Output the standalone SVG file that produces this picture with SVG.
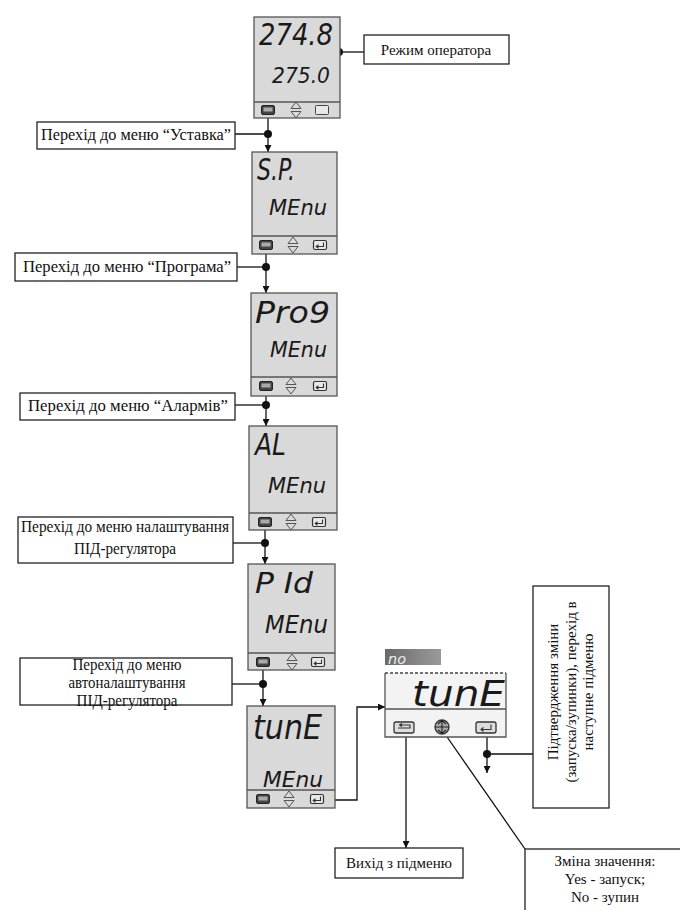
<svg xmlns="http://www.w3.org/2000/svg" width="680" height="910" viewBox="0 0 680 910">
<style>
.bg{fill:#fff}
.dev{fill:#d9d9d9;stroke:#555;stroke-width:1.3}
.sep{stroke:#555;stroke-width:1.3;fill:none}
.seg{font-family:"Liberation Sans Narrow","DejaVu Sans Condensed",sans-serif;font-style:italic;fill:#1a1a1a}
.lbl{fill:#fff;stroke:#222;stroke-width:1.3}
.t{font-family:"Liberation Serif","Times New Roman",serif;font-size:15px;fill:#111}
.tl{font-family:"Liberation Serif","Times New Roman",serif;font-size:16px;fill:#111}
.c{text-anchor:middle}
.ln{stroke:#111;stroke-width:1.3;fill:none}
.dot{fill:#111}
.ic{fill:none;stroke:#555;stroke-width:1}
</style>
<defs>
<marker id="ah" viewBox="0 0 10 10" refX="10" refY="5" markerWidth="7" markerHeight="7" orient="auto" markerUnits="userSpaceOnUse">
<path d="M0,0 L10,5 L0,10 Z" fill="#111"/>
</marker>
<g id="bPage"><rect x="-6.5" y="-4.5" width="13" height="9" rx="1.5" fill="#444" stroke="#222"/><rect x="-4.5" y="-2.5" width="9" height="4" fill="#aaa"/></g>
<g id="bArr"><path class="ic" d="M-5,-1.5 L0,-8 L5,-1.5 Z M-5,1.5 L0,8 L5,1.5 Z"/></g>
<g id="bEnt"><rect x="-6.5" y="-4.5" width="13" height="9" rx="1.5" fill="#e8e8e8" stroke="#333" stroke-width="1.2"/><path d="M3.5,-2.5 V1.5 H-3.5 M-1.5,-0.3 L-3.8,1.5 L-1.5,3.2" fill="none" stroke="#333" stroke-width="1.1"/></g>
<g id="bEmpty"><rect x="-6.5" y="-4.5" width="13" height="9" rx="1" fill="#e8e8e8" stroke="#444" stroke-width="1"/></g>
<linearGradient id="gg" x1="0" y1="0" x2="1" y2="0"><stop offset="0" stop-color="#6a6a6a"/><stop offset="1" stop-color="#9a9a9a"/></linearGradient>
</defs>
<rect class="bg" x="0" y="0" width="680" height="910"/>

<g id="connectors">
<line class="ln" x1="268" y1="114" x2="268" y2="152" marker-end="url(#ah)"/>
<circle class="dot" cx="268" cy="134" r="4"/>
<line class="ln" x1="235" y1="134" x2="268" y2="134"/>
<circle class="dot" cx="339" cy="52" r="4"/>
<line class="ln" x1="339" y1="52" x2="364" y2="52"/>

<line class="ln" x1="266" y1="249" x2="266" y2="293" marker-end="url(#ah)"/>
<circle class="dot" cx="266" cy="267" r="4"/>
<line class="ln" x1="237" y1="267" x2="266" y2="267"/>

<line class="ln" x1="266" y1="390" x2="266" y2="426" marker-end="url(#ah)"/>
<circle class="dot" cx="266" cy="405" r="4"/>
<line class="ln" x1="235" y1="405" x2="266" y2="405"/>

<line class="ln" x1="265" y1="526" x2="265" y2="564" marker-end="url(#ah)"/>
<circle class="dot" cx="265" cy="543" r="4"/>
<line class="ln" x1="233" y1="543" x2="265" y2="543"/>

<line class="ln" x1="263" y1="666" x2="263" y2="706" marker-end="url(#ah)"/>
<circle class="dot" cx="263" cy="684" r="4"/>
<line class="ln" x1="232" y1="684" x2="263" y2="684"/>

<polyline class="ln" points="324,800 357,800 357,707 385,707" marker-end="url(#ah)"/>
<line class="ln" x1="406" y1="733" x2="406" y2="848" marker-end="url(#ah)"/>
<line class="ln" x1="487" y1="733" x2="487" y2="773" marker-end="url(#ah)"/>
<circle class="dot" cx="487" cy="754" r="4"/>
<line class="ln" x1="487" y1="754" x2="533" y2="754"/>
<line class="ln" x1="445" y1="734" x2="525" y2="849"/>
</g>

<g id="dev1">
<rect class="dev" x="254" y="17" width="86" height="101"/>
<line class="sep" x1="254" y1="102" x2="340" y2="102"/>
<text class="seg" x="259" y="45" font-size="31" textLength="74" lengthAdjust="spacingAndGlyphs">274.8</text>
<text class="seg" x="272" y="83" font-size="22" textLength="58" lengthAdjust="spacingAndGlyphs">275.0</text>
<use href="#bPage" x="268" y="110"/><use href="#bArr" x="296" y="110"/><use href="#bEmpty" x="322" y="110"/>
</g>
<g id="lbl-operator">
<rect class="lbl" x="364" y="35" width="145" height="29"/>
<text class="t c" x="436" y="55">Режим оператора</text>
</g>

<g id="lbl-setpoint">
<rect class="lbl" x="37" y="122" width="198" height="27"/>
<text class="tl c" x="136" y="140" textLength="190" lengthAdjust="spacingAndGlyphs">Перехід до меню “Уставка”</text>
</g>
<g id="dev2">
<rect class="dev" x="252" y="152" width="85" height="102"/>
<line class="sep" x1="252" y1="236" x2="337" y2="236"/>
<text class="seg" x="257" y="180" font-size="31" textLength="38" lengthAdjust="spacingAndGlyphs">S.P.</text>
<text class="seg" x="269" y="215" font-size="21" textLength="58" lengthAdjust="spacingAndGlyphs">MEnu</text>
<use href="#bPage" x="266" y="245"/><use href="#bArr" x="293" y="245"/><use href="#bEnt" x="320" y="245"/>
</g>

<g id="lbl-program">
<rect class="lbl" x="15" y="253" width="222" height="28"/>
<text class="tl c" x="127" y="272" textLength="208" lengthAdjust="spacingAndGlyphs">Перехід до меню “Програма”</text>
</g>
<g id="dev3">
<rect class="dev" x="251" y="293" width="86" height="103"/>
<line class="sep" x1="251" y1="377" x2="337" y2="377"/>
<text class="seg" x="255" y="323" font-size="31" textLength="75" lengthAdjust="spacingAndGlyphs">Pro9</text>
<text class="seg" x="270" y="357" font-size="21" textLength="57" lengthAdjust="spacingAndGlyphs">MEnu</text>
<use href="#bPage" x="266" y="386"/><use href="#bArr" x="291" y="386"/><use href="#bEnt" x="320" y="386"/>
</g>

<g id="lbl-alarm">
<rect class="lbl" x="20" y="393" width="215" height="27"/>
<text class="tl c" x="128" y="411" textLength="200" lengthAdjust="spacingAndGlyphs">Перехід до меню “Алармів”</text>
</g>
<g id="dev4">
<rect class="dev" x="249" y="426" width="88" height="104"/>
<line class="sep" x1="249" y1="513" x2="337" y2="513"/>
<text class="seg" x="255" y="455" font-size="30" textLength="31" lengthAdjust="spacingAndGlyphs">AL</text>
<text class="seg" x="268" y="493" font-size="22" textLength="58" lengthAdjust="spacingAndGlyphs">MEnu</text>
<use href="#bPage" x="265" y="522"/><use href="#bArr" x="291" y="522"/><use href="#bEnt" x="319" y="522"/>
</g>

<g id="lbl-pid">
<rect class="lbl" x="18" y="517" width="215" height="46"/>
<text class="tl c" x="125" y="532" textLength="208" lengthAdjust="spacingAndGlyphs">Перехід до меню налаштування</text>
<text class="tl c" x="125" y="554" textLength="102" lengthAdjust="spacingAndGlyphs">ПІД-регулятора</text>
</g>
<g id="dev5">
<rect class="dev" x="248" y="564" width="87" height="106"/>
<line class="sep" x1="248" y1="653" x2="335" y2="653"/>
<text class="seg" x="255" y="593" font-size="29" textLength="58" lengthAdjust="spacingAndGlyphs">P Id</text>
<text class="seg" x="265" y="633" font-size="24" textLength="63" lengthAdjust="spacingAndGlyphs">MEnu</text>
<use href="#bPage" x="263" y="662"/><use href="#bArr" x="292" y="662"/><use href="#bEnt" x="318" y="662"/>
</g>

<g id="lbl-autotune">
<rect class="lbl" x="20" y="658" width="212" height="47"/>
<text class="tl c" x="127" y="670" textLength="109" lengthAdjust="spacingAndGlyphs">Перехід до меню</text>
<text class="tl c" x="127" y="688" textLength="117" lengthAdjust="spacingAndGlyphs">автоналаштування</text>
<text class="tl c" x="127" y="706" textLength="101" lengthAdjust="spacingAndGlyphs">ПІД-регулятора</text>
</g>
<g id="dev6">
<rect class="dev" x="247" y="706" width="88" height="102"/>
<line class="sep" x1="247" y1="790" x2="335" y2="790"/>
<text class="seg" x="253" y="739" font-size="33" textLength="69" lengthAdjust="spacingAndGlyphs">tunE</text>
<text class="seg" x="263" y="787" font-size="21" textLength="60" lengthAdjust="spacingAndGlyphs">MEnu</text>
<use href="#bPage" x="263" y="799"/><use href="#bArr" x="289" y="799"/><use href="#bEnt" x="317" y="799"/>
</g>

<g id="tune-detail">
<rect x="385" y="649" width="56" height="16" fill="url(#gg)"/>
<text class="seg" x="388" y="664" font-size="14" style="fill:#eee" textLength="18" lengthAdjust="spacingAndGlyphs">no</text>
<rect x="385" y="673" width="121" height="64" fill="#f3f3f3" stroke="none"/>
<line x1="385" y1="673" x2="506" y2="673" stroke="#444" stroke-width="1.3" stroke-dasharray="3,2"/>
<polyline class="sep" points="385,673 385,737 506,737 506,673"/>
<line class="sep" x1="385" y1="709" x2="506" y2="709"/>
<text class="seg" x="412" y="706" font-size="36" textLength="93" lengthAdjust="spacingAndGlyphs">tunE</text>
<rect x="394" y="722" width="20" height="11" rx="2" fill="#ddd" stroke="#333" stroke-width="1.3"/>
<path d="M398,728 H410 V725 H400 M402,723.5 L399.5,725 L402,726.5" fill="none" stroke="#333" stroke-width="1.1"/>
<circle cx="442" cy="727" r="7" fill="#aaa" stroke="#333" stroke-width="1.3"/>
<path d="M435,727 H449 M442,720 V734 M438,724 L442,720.5 L446,724 M438,730 L442,733.5 L446,730" fill="none" stroke="#222" stroke-width="1.1"/>
<rect x="476" y="722" width="20" height="11" rx="2" fill="#ddd" stroke="#333" stroke-width="1.3"/>
<path d="M491,724.5 V729.5 H481 M483.5,727.5 L481,729.5 L483.5,731.5" fill="none" stroke="#333" stroke-width="1.1"/>
</g>

<g id="lbl-confirm">
<rect class="lbl" x="533" y="586" width="76" height="222"/>
<g transform="translate(571,692) rotate(-90)">
<text class="t c" x="0" y="-13">Підтвердження зміни</text>
<text class="t c" x="0" y="5">(запуска/зупинки), перехід в</text>
<text class="t c" x="0" y="22">наступне підменю</text>
</g>
</g>

<g id="lbl-exit">
<rect class="lbl" x="335" y="848" width="128" height="30"/>
<text class="t c" x="399" y="868">Вихід з підменю</text>
</g>

<g id="lbl-change">
<rect class="lbl" x="525" y="849" width="170" height="70"/>
<text class="t c" x="605" y="866">Зміна значення:</text>
<text class="t c" x="605" y="884">Yes - запуск;</text>
<text class="t c" x="605" y="902">No - зупин</text>
</g>
</svg>
